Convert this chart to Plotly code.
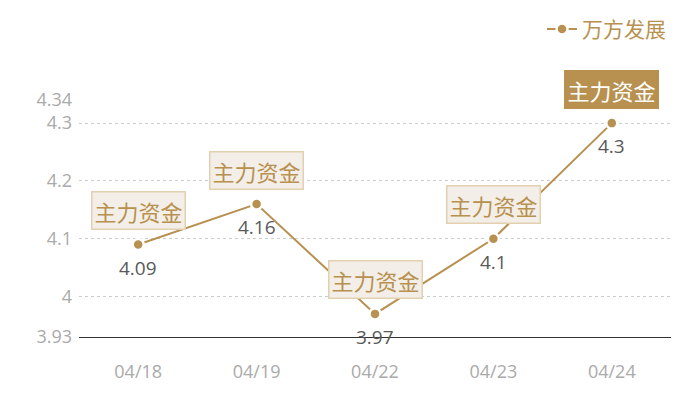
import plotly.graph_objects as go

dates = ["04/18", "04/19", "04/22", "04/23", "04/24"]
values = [4.09, 4.16, 3.97, 4.1, 4.3]
tags = ["主力资金", "主力资金", "主力资金", "主力资金", "主力资金"]
yticks = [3.93, 4, 4.1, 4.2, 4.3, 4.34]

gold = "#b8904f"
font = "Open Sans, Noto Sans CJK SC"

fig = go.Figure(go.Scatter(
    x=dates, y=values,
    mode="lines+markers",
    name="万方发展",
    line=dict(color=gold, width=2),
    marker=dict(color=gold, size=11, line=dict(color="white", width=2.5)),
))

annots = []
for i, (d, v, t) in enumerate(zip(dates, values, tags)):
    last = i == len(dates) - 1
    annots.append(dict(
        x=d, y=v, text=t, showarrow=False, yshift=34,
        font=dict(size=22, color="white" if last else gold, family="Noto Sans CJK SC"),
        bgcolor=gold if last else "#f3efe8",
        bordercolor="#e2d0b0" if not last else gold,
        borderwidth=1.5, borderpad=2,
    ))
    annots.append(dict(
        x=d, y=v, text=str(v), showarrow=False, yshift=-23,
        font=dict(size=19, color="#595959", family=font),
    ))

# page body has an 8px margin, so shift the plot up/left to compensate
fig.update_layout(
    width=700, height=400,
    margin=dict(l=71, r=37, t=92, b=71, autoexpand=False),
    paper_bgcolor="white", plot_bgcolor="white",
    font=dict(family=font),
    showlegend=True,
    legend=dict(x=1, xanchor="right", y=1.385, yanchor="top",
                font=dict(size=21, color=gold, family="Noto Sans CJK SC"),
                itemwidth=30, bgcolor="rgba(0,0,0,0)"),
    annotations=annots,
    xaxis=dict(
        showgrid=False, showline=True, linecolor="#333", linewidth=1,
        ticks="", tickfont=dict(size=18, color="#aaaaaa"),
        range=[-0.5, 4.5], automargin=False, ticklabelstandoff=18,
    ),
    yaxis=dict(
        range=[3.93, 4.34], tickvals=yticks, ticktext=[str(t) for t in yticks],
        showgrid=True, gridcolor="#cccccc", griddash="dot", gridwidth=1,
        zeroline=False, ticks="", ticklen=0, automargin=False,
        ticklabelstandoff=6,
        tickfont=dict(size=18, color="#aaaaaa"),
    ),
)

fig.write_html("out.html")
